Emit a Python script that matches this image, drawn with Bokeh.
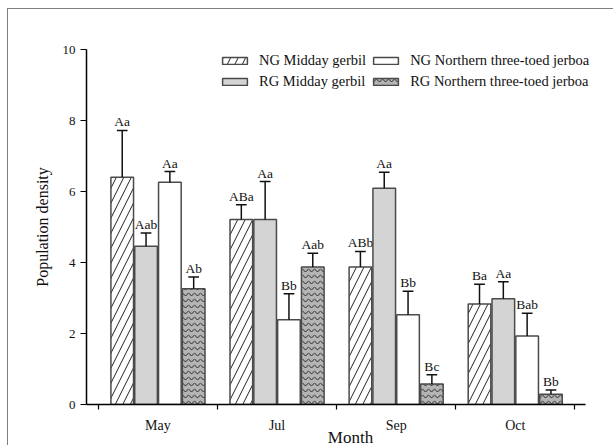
from bokeh.plotting import figure
from bokeh.models import ColumnDataSource, FixedTicker, Legend, LegendItem, Range1d
from bokeh.core.properties import value
from bokeh.embed import file_html
from bokeh.resources import INLINE

months = ["May", "Jul", "Sep", "Oct"]
series_names = ["NG Midday gerbil", "RG Midday gerbil",
                "NG Northern three-toed jerboa", "RG Northern three-toed jerboa"]

ng_gerbil = [6.40, 5.21, 3.87, 2.83]
ng_gerbil_err = [1.32, 0.42, 0.44, 0.56]
ng_gerbil_lab = ["Aa", "ABa", "ABb", "Ba"]

rg_gerbil = [4.46, 5.21, 6.09, 2.98]
rg_gerbil_err = [0.37, 1.07, 0.45, 0.48]
rg_gerbil_lab = ["Aab", "Aa", "Aa", "Aa"]

ng_jerboa = [6.26, 2.39, 2.53, 1.93]
ng_jerboa_err = [0.30, 0.73, 0.66, 0.64]
ng_jerboa_lab = ["Aa", "Bb", "Bb", "Bab"]

rg_jerboa = [3.26, 3.87, 0.58, 0.29]
rg_jerboa_err = [0.33, 0.39, 0.26, 0.12]
rg_jerboa_lab = ["Ab", "Aab", "Bc", "Bb"]

y_ticks = [0, 2, 4, 6, 8, 10]

SERIF = "Liberation Serif"

# axis spans x in [-0.1, 4.09] over 499 px; frame extends further right for the legend
X0, X1 = -0.1, 4.09
AXIS_PX = 499
FRAME_W = 528
x_end = X0 + (X1 - X0) * FRAME_W / AXIS_PX

p = figure(frame_width=FRAME_W, frame_height=355, output_backend="svg", toolbar_location=None,
           x_range=Range1d(X0, x_end), y_range=Range1d(0, 10),
           min_border_left=78, min_border_right=0, min_border_top=40, min_border_bottom=41)
p.styles = {"margin-left": "8px", "margin-top": "9px",
            "box-shadow": "-1px -1px 0px 0px #7f7f7f"}
p.outline_line_color = None
p.xgrid.visible = False
p.ygrid.visible = False
p.background_fill_color = "white"
p.border_fill_color = "white"

styles = [
    dict(fill_color="white", hatch_pattern="right_diagonal_line", hatch_color="#222222",
         hatch_scale=15, hatch_weight=1),
    dict(fill_color="#d4d4d4"),
    dict(fill_color="white"),
    dict(fill_color="#b4b4b4", hatch_pattern="horizontal_wave", hatch_color="#2a2a2a",
         hatch_scale=6, hatch_weight=1),
]
offsets = [-0.3, -0.1, 0.1, 0.3]
data = [
    (ng_gerbil, ng_gerbil_err, ng_gerbil_lab),
    (rg_gerbil, rg_gerbil_err, rg_gerbil_lab),
    (ng_jerboa, ng_jerboa_err, ng_jerboa_lab),
    (rg_jerboa, rg_jerboa_err, rg_jerboa_lab),
]

renderers = []
for (vals, errs, labs), off, st in zip(data, offsets, styles):
    xs = [i + 0.5 + off for i in range(len(months))]
    tops = [v + e for v, e in zip(vals, errs)]
    src = ColumnDataSource(dict(
        x=xs, top=vals, etop=tops, lab=labs,
        cl=[x - 0.045 for x in xs], cr=[x + 0.045 for x in xs]))
    r = p.vbar(x="x", top="top", width=0.19, source=src,
               line_color="#4a4a4a", line_width=1.5, **st)
    renderers.append(r)
    p.segment(x0="x", y0="top", x1="x", y1="etop", source=src,
              line_color="#111111", line_width=1.5)
    p.segment(x0="cl", y0="etop", x1="cr", y1="etop", source=src,
              line_color="#111111", line_width=1.5)
    p.text(x="x", y="etop", text="lab", source=src, text_align="center",
           text_baseline="bottom", y_offset=-1, text_font=value(SERIF),
           text_font_size="13.5px", text_color="#111111")

# axes
xa = p.xaxis[0]
xa.bounds = (X0, X1)
xa.ticker = FixedTicker(ticks=[i + 0.5 for i in range(len(months))],
                        minor_ticks=list(range(len(months) + 1)))
xa.major_label_overrides = {i + 0.5: m for i, m in enumerate(months)}
xa.major_tick_line_color = None
xa.major_tick_out = 5
xa.major_tick_in = 0
xa.minor_tick_line_color = "black"
xa.minor_tick_out = 5
xa.minor_tick_in = 0
xa.minor_tick_line_width = 1.2
xa.axis_line_color = "black"
xa.axis_line_width = 1.5
xa.major_label_standoff = 8
xa.major_label_text_font = SERIF
xa.major_label_text_font_size = "14px"
xa.major_label_text_color = "#111111"
xa.axis_label = "Month"
xa.axis_label_text_font = SERIF
xa.axis_label_text_font_size = "17px"
xa.axis_label_text_font_style = "normal"
xa.axis_label_text_color = "#111111"
xa.axis_label_standoff = -8

ya = p.yaxis[0]
ya.ticker = FixedTicker(ticks=y_ticks, minor_ticks=[])
ya.major_tick_out = 6
ya.major_tick_in = 0
ya.major_tick_line_width = 1.2
ya.axis_line_color = "black"
ya.axis_line_width = 1.5
ya.major_label_standoff = 5
ya.major_label_text_font = SERIF
ya.major_label_text_font_size = "13px"
ya.major_label_text_color = "#111111"
ya.axis_label = "Population density"
ya.axis_label_text_font = SERIF
ya.axis_label_text_font_size = "16px"
ya.axis_label_text_font_style = "normal"
ya.axis_label_text_color = "#111111"
ya.axis_label_standoff = 9

order = [0, 2, 1, 3]
legend = Legend(items=[LegendItem(label=series_names[k], renderers=[renderers[k]]) for k in order],
                location=(133, 314), ncols=2, orientation="horizontal",
                padding=0, margin=0, spacing=4,
                glyph_width=31, glyph_height=9, label_height=16, label_standoff=9,
                label_text_font=SERIF, label_text_font_size="14.5px", label_text_color="#111111",
                border_line_color=None, background_fill_alpha=0)
p.add_layout(legend)

open("out.html", "w").write(file_html(p, INLINE))
